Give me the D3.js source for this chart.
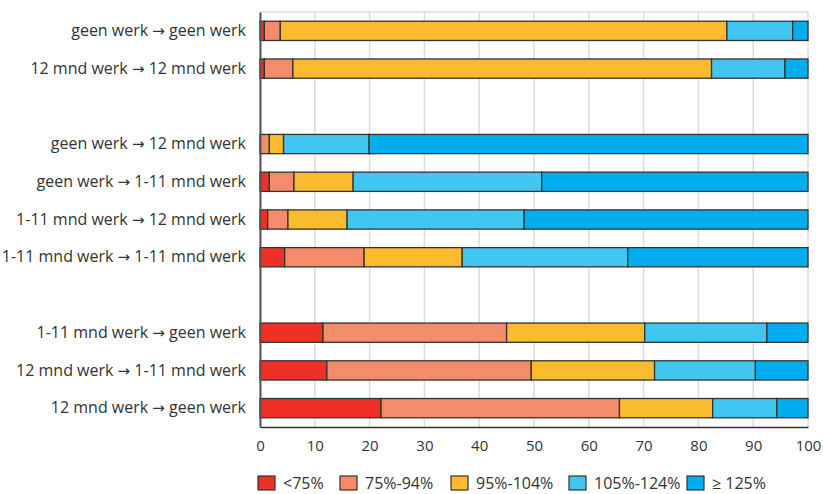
<!DOCTYPE html>
<html>
<head>
<meta charset="UTF-8">
<script src="https://d3js.org/d3.v7.min.js"></script>
<style>
  body { margin: 0; background: #fff; }
  text { font-family: "Open Sans", sans-serif; fill: #333; }
</style>
</head>
<body>
<div id="chart"></div>
<script>
// rows, top to bottom ("" = empty gap row)
var categories = [
  "geen werk → geen werk",
  "12 mnd werk → 12 mnd werk",
  "",
  "geen werk → 12 mnd werk",
  "geen werk → 1-11 mnd werk",
  "1-11 mnd werk → 12 mnd werk",
  "1-11 mnd werk → 1-11 mnd werk",
  " ",
  "1-11 mnd werk → geen werk",
  "12 mnd werk → 1-11 mnd werk",
  "12 mnd werk → geen werk"
];
var seriesNames = ["<75%", "75%-94%", "95%-104%", "105%-124%", "≥ 125%"];
var colors = ["#ee3124", "#f48b6b", "#fbbb2f", "#41c6f2", "#00adee"];

// share per category (percent), one array per series
var lt75    = [0.8, 0.8, null, 0.0, 1.7, 1.4, 4.5, null, 11.5, 12.2, 22.1];
var r75_94  = [2.9, 5.2, null, 1.7, 4.5, 3.7, 14.5, null, 33.5, 37.3, 43.5];
var r95_104 = [81.5, 76.4, null, 2.6, 10.8, 10.8, 17.9, null, 25.2, 22.5, 17.0];
var r105_124= [12.0, 13.4, null, 15.6, 34.4, 32.3, 30.2, null, 22.3, 18.4, 11.7];
var ge125   = [2.8, 4.2, null, 80.1, 48.6, 51.8, 32.9, null, 7.5, 9.6, 5.7];
var xTicks = [0, 10, 20, 30, 40, 50, 60, 70, 80, 90, 100];

var series = [lt75, r75_94, r95_104, r105_124, ge125];

var width = 823, height = 494;
var margin = {top: 12, right: 15, bottom: 67, left: 260};

var svg = d3.select("#chart").append("svg")
  .attr("width", width)
  .attr("height", height);

var x = d3.scaleLinear().domain([0, 100]).range([margin.left, width - margin.right]);
var y = d3.scaleBand().domain(categories)
  .range([margin.top, height - margin.bottom])
  .paddingInner(0.49).paddingOuter(0.245);

// grid
svg.append("g").selectAll("line").data(xTicks).enter().append("line")
  .attr("x1", d => x(d)).attr("x2", d => x(d))
  .attr("y1", margin.top).attr("y2", height - margin.bottom)
  .attr("stroke", "#ddd").attr("stroke-width", 1.5);
svg.append("line")
  .attr("x1", x(0)).attr("x2", x(100))
  .attr("y1", margin.top).attr("y2", margin.top)
  .attr("stroke", "#ddd").attr("stroke-width", 1.5);

// stacked data
var rows = categories.map(function(c, i) {
  var o = {cat: c};
  seriesNames.forEach(function(s, j) { o[s] = series[j][i] || 0; });
  return o;
}).filter(function(d, i) { return lt75[i] !== null; });

var stack = d3.stack().keys(seriesNames)(rows);

svg.append("g").selectAll("g").data(stack).enter().append("g")
  .attr("fill", (d, i) => colors[i])
  .selectAll("rect").data(d => d.filter(p => p[1] - p[0] > 0)).enter().append("rect")
  .attr("x", d => x(d[0]))
  .attr("width", d => x(d[1]) - x(d[0]))
  .attr("y", d => y(d.data.cat))
  .attr("height", y.bandwidth())
  .attr("stroke", "#333")
  .attr("stroke-width", 1.3);

// axes
var xAxis = svg.append("g")
  .attr("transform", "translate(0," + (height - margin.bottom) + ")")
  .call(d3.axisBottom(x).tickValues(xTicks).tickSize(0).tickPadding(13));
xAxis.select(".domain").attr("stroke", "#333").attr("stroke-width", 1.5);
xAxis.selectAll("text").style("font-size", "15px").attr("fill", "#333");

var yAxis = svg.append("g")
  .attr("transform", "translate(" + margin.left + ",0)")
  .call(d3.axisLeft(y).tickSize(0).tickPadding(14));
yAxis.select(".domain").attr("stroke", "#555").attr("stroke-width", 2);
yAxis.selectAll("text").style("font-size", "16px").attr("fill", "#333")
  .each(function(d) {
    var t = d3.select(this), parts = d.split("→");
    if (parts.length < 2) return;
    t.text(null);
    t.append("tspan").text(parts[0]);
    t.append("tspan").style("font-family", "DejaVu Sans").style("font-size", "15px").text("→");
    t.append("tspan").text(parts[1]);
  });

// legend
var legendX = [258, 340, 451, 569, 687];
var legend = svg.append("g").selectAll("g").data(seriesNames).enter().append("g")
  .attr("transform", (d, i) => "translate(" + legendX[i] + ",476)");
legend.append("rect")
  .attr("width", 17).attr("height", 14)
  .attr("fill", (d, i) => colors[i])
  .attr("stroke", "#333").attr("stroke-width", 1.2);
legend.append("text")
  .attr("x", 25).attr("y", 13)
  .style("font-size", "16px")
  .text(d => d);
</script>
</body>
</html>
